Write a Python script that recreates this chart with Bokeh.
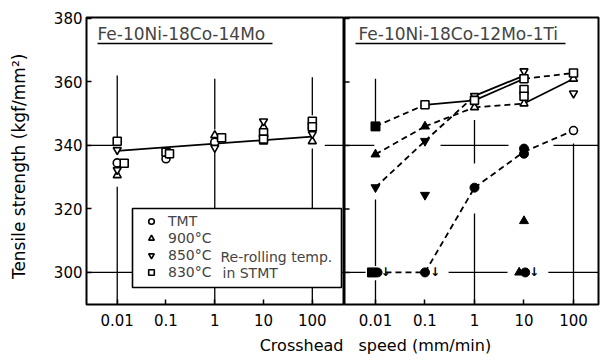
from bokeh.plotting import figure
from bokeh.layouts import row
from bokeh.models import (Range1d, FixedTicker, Label, BoxAnnotation, Legend,
                          LegendItem, CustomJSTickFormatter)
from bokeh.core.properties import value
from bokeh.embed import file_html
from bokeh.resources import INLINE

# ---------------- axis values ----------------
speeds = [0.01, 0.1, 1, 10, 100]
speed_labels = ["0.01", "0.1", "1", "10", "100"]
strength_ticks = [300, 320, 340, 360, 380]

# ---------------- Fe-10Ni-18Co-14Mo (left panel, all open symbols) ----------------
L_tmt_x = [0.01, 0.1, 1, 10, 100]
L_tmt_y = [334.5, 335.8, 341.0, 342.8, 345.5]
L_900_x = [0.01, 1, 10, 10, 100]
L_900_y = [330.6, 343.2, 345.8, 341.2, 341.3]
L_850_x = [0.01, 0.01, 0.11, 1, 10, 100]
L_850_y = [338.6, 332.3, 337.4, 339.3, 347.6, 343.6]
L_830_x = [0.01, 0.0139, 0.1, 0.118, 1.38, 10, 10, 100, 100]
L_830_y = [341.3, 334.4, 337.9, 337.4, 342.4, 344.0, 342.0, 347.6, 345.9]
L_fit_x = [0.01, 100]
L_fit_y = [338.3, 342.8]

# ---------------- Fe-10Ni-18Co-12Mo-1Ti (right panel) ----------------
R_tmt_line_x = [0.01, 0.1, 1, 10, 100]
R_tmt_line_y = [300, 300, 326.7, 338.0, 344.7]
R_tmt_line_dash = ["dashed", "dashed", "dashed", "dashed"]
R_tmt_filled_x = [0.011, 0.1, 1, 10, 10, 10.6]
R_tmt_filled_y = [300, 300, 326.7, 337.4, 339.0, 300]
R_tmt_open_x = [100]
R_tmt_open_y = [344.7]

R_900_line_x = [0.01, 0.1, 1, 10, 100]
R_900_line_y = [337.2, 346.0, 352.0, 353.2, 361.0]
R_900_line_dash = ["dashed", "dashed", "dashed", "solid"]
R_900_filled_x = [0.01, 0.1, 10, 8.0]
R_900_filled_y = [337.2, 346.0, 316.2, 300]
R_900_open_x = [1, 10, 100]
R_900_open_y = [352.0, 353.2, 361.0]

R_850_line_x = [0.01, 0.1, 1, 10]
R_850_line_y = [326.8, 341.4, 355.6, 362.0]
R_850_line_dash = ["dashed", "dashed", "solid"]
R_850_filled_x = [0.01, 0.1, 0.1]
R_850_filled_y = [326.8, 341.4, 324.4]
R_850_open_x = [1, 10, 100]
R_850_open_y = [355.6, 363.4, 356.4]

R_830_line_x = [0.01, 0.1, 1, 10, 100]
R_830_line_y = [346.0, 352.8, 354.2, 361.0, 362.8]
R_830_line_dash = ["dashed", "solid", "solid", "dashed"]
R_830_filled_x = [0.0085, 0.01]
R_830_filled_y = [300, 346.0]
R_830_open_x = [0.1, 1, 10, 10, 10, 100]
R_830_open_y = [352.8, 354.2, 361.0, 357.6, 355.5, 362.8]

# fractured below 300 (arrow marks)
R_arrow_x = [0.01, 0.1, 10]
R_arrow_y = [300, 300, 300]

# ---------------- layout constants ----------------
FONT = "DejaVu Sans"
Y_RANGE = (289.9, 380.3)
L_XLOG = (-2.63, 2.66)
R_XLOG = (-2.626, 2.505)
FRAME_H = 287
L_W, R_W = 258, 254
Y0 = Y_RANGE[0]
XL0, XL1 = 10 ** L_XLOG[0], 10 ** L_XLOG[1]
XR0, XR1 = 10 ** R_XLOG[0], 10 ** R_XLOG[1]

# broken reference lines (as in the original drawing)
L_vgrid_x = [0.01, 0.01, 1, 1, 100, 100]
L_vgrid_y0 = [362.0, 327.0, 361.0, 338.0, 361.5, 339.0]
L_vgrid_y1 = [342.5, Y0, 345.0, Y0, 349.5, Y0]
L_hgrid_y = [340, 340, 300]
L_hgrid_x0 = [XL0, 180, XL0]
L_hgrid_x1 = [0.0088, XL1, XL1]

R_vgrid_x = [0.01, 0.01, 0.01, 1, 1, 100]
R_vgrid_y0 = [361.0, 323.0, 297.5, 348.0, 318.6, 340.6]
R_vgrid_y1 = [347.5, 302.0, Y0, 334.3, Y0, Y0]
R_hgrid_y = [340, 340, 340, 300, 300, 300]
R_hgrid_x0 = [XR0, 0.206, 39.5, XR0, 0.3, 31]
R_hgrid_x1 = [0.0095, 4.86, XR1, 0.0063, 4.64, XR1]


def fx(px, xlog, width):
    return 10 ** (xlog[0] + px / width * (xlog[1] - xlog[0]))


def fy(py):
    return Y_RANGE[1] - py / FRAME_H * (Y_RANGE[1] - Y_RANGE[0])


tick_fmt = CustomJSTickFormatter(args=dict(spd=speeds, lbl=speed_labels), code="""
const i = spd.findIndex(t => Math.abs(Math.log10(t) - Math.log10(tick)) < 1e-6);
return i >= 0 ? lbl[i] : '';
""")


def make_fig(width, xlog, bl, br, xtitle, talign, toffset):
    p = figure(width=width, height=360, x_axis_type="log",
               x_range=Range1d(10 ** xlog[0], 10 ** xlog[1]),
               y_range=Range1d(*Y_RANGE),
               output_backend="svg", toolbar_location=None,
               title=xtitle, title_location="below",
               min_border_left=bl, min_border_right=br,
               min_border_top=17, min_border_bottom=56)
    p.title.align = talign
    p.title.offset = toffset
    p.title.standoff = 11
    p.title.text_font = FONT
    p.title.text_font_size = "16px"
    p.title.text_font_style = "normal"
    p.title.text_color = "black"
    p.outline_line_color = "black"
    p.outline_line_width = 2
    p.outline_line_alpha = 1
    p.background_fill_color = "white"
    p.border_fill_color = "white"
    p.grid.visible = False
    xa = p.xaxis[0]
    xa.ticker = FixedTicker(ticks=speeds)
    xa.formatter = tick_fmt
    xa.minor_tick_line_color = None
    xa.major_tick_in = 5
    xa.major_tick_out = 0
    xa.major_tick_line_width = 1.5
    xa.axis_line_color = None
    xa.major_label_text_font = FONT
    xa.major_label_text_font_size = "15px"
    xa.major_label_text_color = "black"
    xa.major_label_standoff = 9
    ya = p.yaxis[0]
    ya.ticker = FixedTicker(ticks=strength_ticks)
    ya.minor_tick_line_color = None
    ya.major_tick_in = 5
    ya.major_tick_out = 0
    ya.major_tick_line_width = 1.5
    ya.axis_line_color = None
    ya.major_label_text_font = FONT
    ya.major_label_text_font_size = "15px"
    ya.major_label_text_color = "black"
    ya.major_label_standoff = 4
    return p


def draw_grid(p, vx, vy0, vy1, hy, hx0, hx1):
    p.segment(x0=vx, y0=vy0, x1=vx, y1=vy1, line_color="black", line_width=1.3)
    p.segment(x0=hx0, y0=hy, x1=hx1, y1=hy, line_color="black", line_width=1.3)


def draw_path(p, xs, ys, dashes):
    for style, dash in (("dashed", "6 4"), ("solid", "solid")):
        idx = [i for i, d in enumerate(dashes) if d == style]
        if idx:
            p.segment(x0=[xs[i] for i in idx], y0=[ys[i] for i in idx],
                      x1=[xs[i + 1] for i in idx], y1=[ys[i + 1] for i in idx],
                      line_color="black", line_width=1.8, line_dash=dash)


OPEN = dict(fill_color="white", line_color="black", line_width=1.6, size=8)
FILLED = dict(fill_color="black", line_color="black", line_width=1, size=9)

# ================= left panel =================
p1 = make_fig(344, L_XLOG, 86, 0, "Crosshead", "right", 1)
p1.yaxis.axis_label = "Tensile  strength  (kgf/mm\u00b2)"
p1.yaxis.axis_label_text_font = FONT
p1.yaxis.axis_label_text_font_size = "17px"
p1.yaxis.axis_label_text_font_style = "normal"
p1.yaxis.axis_label_text_color = "black"
p1.yaxis.axis_label_standoff = 22

draw_grid(p1, L_vgrid_x, L_vgrid_y0, L_vgrid_y1, L_hgrid_y, L_hgrid_x0, L_hgrid_x1)
p1.line(L_fit_x, L_fit_y, line_color="black", line_width=1.8)
r_tmt = p1.scatter(L_tmt_x, L_tmt_y, marker="circle", **OPEN)
r_900 = p1.scatter(L_900_x, L_900_y, marker="triangle", **OPEN)
r_850 = p1.scatter(L_850_x, L_850_y, marker="inverted_triangle", **OPEN)
r_830 = p1.scatter(L_830_x, L_830_y, marker="square", **OPEN)

p1.add_layout(Label(x=fx(11, L_XLOG, L_W), y=fy(16),
                    text="Fe-10Ni-18Co-14Mo", text_font=FONT, text_font_size="17px",
                    text_baseline="middle"))
p1.segment(x0=[fx(11, L_XLOG, L_W)], y0=[fy(26)], x1=[fx(186, L_XLOG, L_W)], y1=[fy(26)],
           line_color="black", line_width=1.5)

# legend box
p1.add_layout(BoxAnnotation(left=fx(46, L_XLOG, L_W), right=fx(255, L_XLOG, L_W),
                            top=fy(191), bottom=fy(270),
                            fill_color="white", fill_alpha=1,
                            line_color="black", line_width=1.6, line_alpha=1))
legend = Legend(items=[LegendItem(label="TMT", renderers=[r_tmt]),
                       LegendItem(label="900\u00b0C", renderers=[r_900]),
                       LegendItem(label="850\u00b0C", renderers=[r_850]),
                       LegendItem(label="830\u00b0C", renderers=[r_830])],
                location=(58, 24), padding=0, margin=0, spacing=1,
                glyph_height=14, glyph_width=14, label_height=14,
                label_standoff=10, label_text_font=FONT, label_text_font_size="14px",
                background_fill_alpha=0, border_line_color=None)
p1.add_layout(legend)
brace = [(122.3, 219), (125.5, 220.5), (126.7, 223.5), (127, 236), (128, 238.5), (130, 239.5),
         (128, 240.5), (127, 243), (127, 255.5), (125.5, 258), (122.5, 259)]
p1.line([fx(a, L_XLOG, L_W) for a, b in brace], [fy(b) for a, b in brace],
        line_color="black", line_width=1.3)
p1.add_layout(Label(x=fx(134, L_XLOG, L_W), y=fy(239),
                    text="Re-rolling temp.", text_font=FONT, text_font_size="14px",
                    text_baseline="middle"))
p1.add_layout(Label(x=fx(136, L_XLOG, L_W), y=fy(255),
                    text="in STMT", text_font=FONT, text_font_size="14px",
                    text_baseline="middle"))

# ================= right panel =================
p2 = make_fig(258, R_XLOG, 0, 4, "speed  (mm/min)", "left", 14)
p2.yaxis.visible = False
# inward tick marks on the left edge of the right panel
p2.segment(x0=[XR0] * len(strength_ticks), y0=strength_ticks,
           x1=[fx(5, R_XLOG, R_W)] * len(strength_ticks), y1=strength_ticks,
           line_color="black", line_width=1.5)

draw_grid(p2, R_vgrid_x, R_vgrid_y0, R_vgrid_y1, R_hgrid_y, R_hgrid_x0, R_hgrid_x1)
draw_path(p2, R_tmt_line_x, R_tmt_line_y, R_tmt_line_dash)
draw_path(p2, R_900_line_x, R_900_line_y, R_900_line_dash)
draw_path(p2, R_850_line_x, R_850_line_y, R_850_line_dash)
draw_path(p2, R_830_line_x, R_830_line_y, R_830_line_dash)

p2.scatter(R_tmt_filled_x, R_tmt_filled_y, marker="circle", **FILLED)
p2.scatter(R_tmt_open_x, R_tmt_open_y, marker="circle", **OPEN)
p2.scatter(R_900_filled_x, R_900_filled_y, marker="triangle", **FILLED)
p2.scatter(R_900_open_x, R_900_open_y, marker="triangle", **OPEN)
p2.scatter(R_850_filled_x, R_850_filled_y, marker="inverted_triangle", **FILLED)
p2.scatter(R_850_open_x, R_850_open_y, marker="inverted_triangle", **OPEN)
p2.scatter(R_830_filled_x, R_830_filled_y, marker="square", **FILLED)
p2.scatter(R_830_open_x, R_830_open_y, marker="square", **OPEN)
p2.text(x=R_arrow_x, y=R_arrow_y, text=["\u2193"] * len(R_arrow_x), x_offset=10,
        text_align="center", text_baseline="middle", text_font=value(FONT),
        text_font_size="12px", text_font_style="bold", text_color="black")

p2.add_layout(Label(x=fx(14, R_XLOG, R_W), y=fy(16),
                    text="Fe-10Ni-18Co-12Mo-1Ti", text_font=FONT, text_font_size="17px",
                    text_baseline="middle"))
p2.segment(x0=[fx(11, R_XLOG, R_W)], y0=[fy(26)], x1=[fx(221, R_XLOG, R_W)], y1=[fy(26)],
           line_color="black", line_width=1.5)

layout = row(p1, p2)
open("out.html", "w").write(file_html(layout, INLINE))
